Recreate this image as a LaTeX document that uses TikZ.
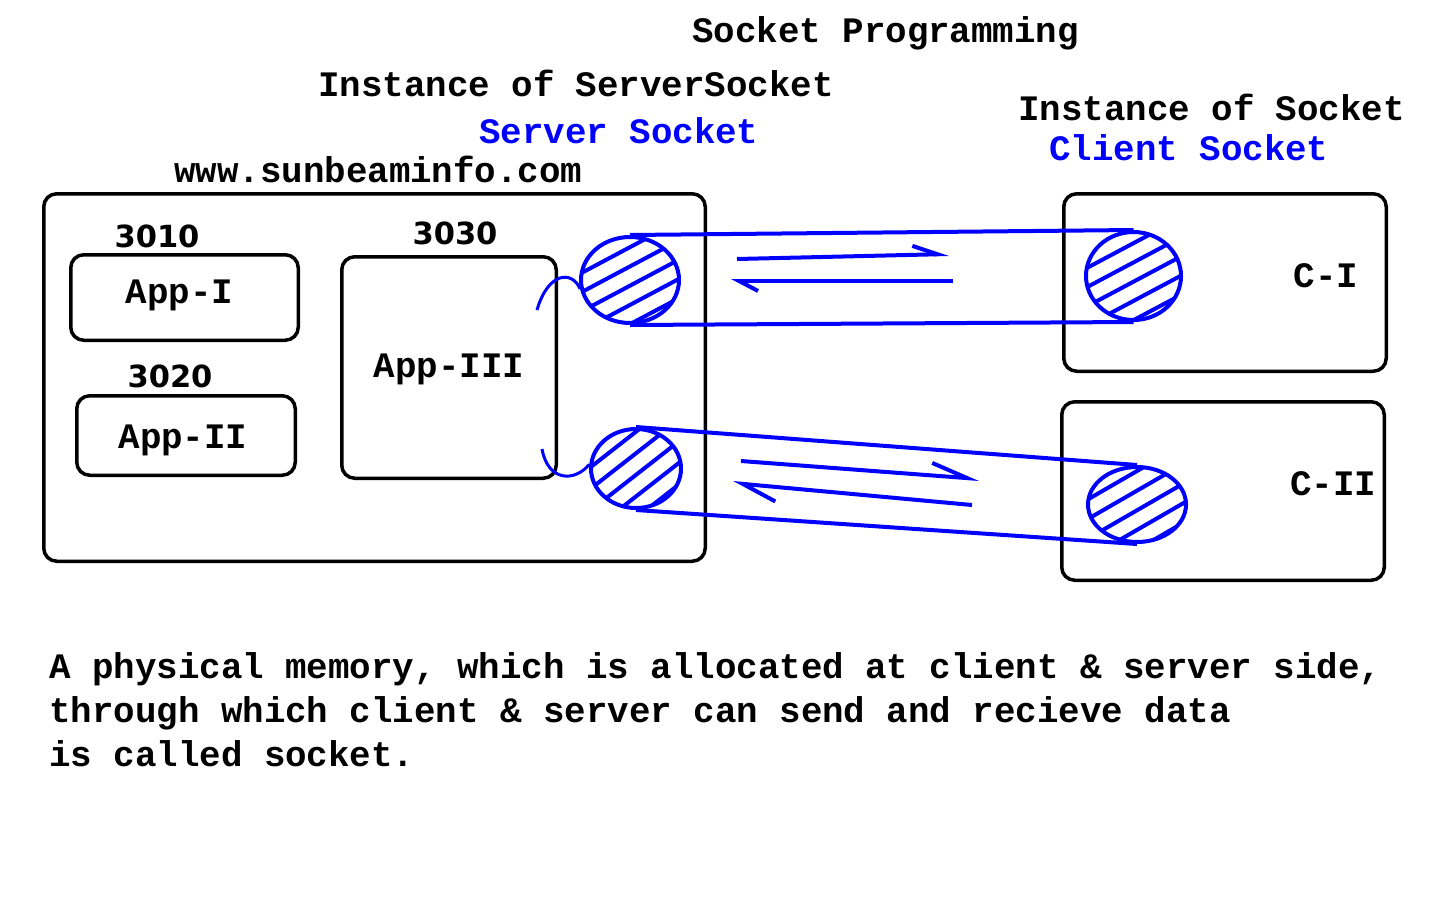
\documentclass[tikz,border=0pt]{standalone}
\usepackage{fontspec}
\setmainfont{Liberation Mono}
\newfontfamily\numfont{DejaVu Sans}
\usetikzlibrary{shapes.geometric,arrows.meta}

\begin{document}
\begin{tikzpicture}[x=1pt,y=-1pt,
    txt/.style={font=\fontsize{35.8}{44}\selectfont\bfseries,inner sep=0pt},
    port/.style={font=\fontsize{30.5}{36}\selectfont\numfont\bfseries,inner sep=0pt,anchor=base},
    box/.style={draw,line width=3.5pt,rounded corners=13pt,inner sep=0pt},
    sock/.style={ellipse,draw=blue,line width=4pt,inner sep=0pt},
    tube/.style={blue,line width=4pt},
    harp/.style 2 args={blue,line width=4pt,-{Straight Barb[left,length=#1,width=#2]}}]
    \useasboundingbox (0,0) rectangle (1440,900);
    % boxes
    \foreach \n/\cx/\cy/\w/\h in {server/374.5/377.5/661.5/367.5,app1/184.5/297.5/227.5/85.5,
      app2/186/435.5/218.5/79.5,app3/449/367.5/214.5/221.5,
      c1/1225/282.5/322.5/177.5,c2/1223/491/322.5/178.5}{
      \node[box,minimum width=\w pt,minimum height=\h pt] (\n) at (\cx,\cy) {};
    }
    \foreach \n/\t/\x/\y in {l1/App-I/179.5/303,l2/App-II/183/448,l3/App-III/449/377,
      l4/C-I/1326/287,l5/C-II/1333/495}{
      \node[txt,anchor=base] (\n) at (\x,\y) {\t};
    }
    \foreach \p/\x/\y in {3010/157/247,3020/170/387,3030/455/244}{
      \node[port] (p\p) at (\x,\y) {\p};
    }
    % texts
    \node[txt,anchor=base west] (title) at (692,42) {Socket Programming};
    \node[txt,anchor=base west] (srvinst) at (318,96) {Instance of ServerSocket};
    \node[txt,anchor=base west,blue] (srvsock) at (479,143) {Server Socket};
    \node[txt,anchor=base west] (site) at (174,182) {www.sunbeaminfo.com};
    \node[txt,anchor=base west] (cliinst) at (1018,120) {Instance of Socket};
    \node[txt,anchor=base west,blue] (clisock) at (1049,160) {Client Socket};
    \node[txt,anchor=base west,align=left] (note) at (49,766)
      {A physical memory, which is allocated at client \& server side,\\
       through which client \& server can send and recieve data\\
       is called socket.};
    % sockets
    \foreach \s/\cx/\cy/\rx/\ry/\a in {ss1/630/280/49/43/28,cs1/1133.5/276/47.5/44/28,
      ss2/636/468.5/45/39.5/38,cs2/1137/504.5/49/37.5/30}{
      \begin{scope}
        \clip (\cx,\cy) ellipse [x radius=\rx,y radius=\ry];
        \foreach \k in {-4,...,4}
          \draw[tube,shift={(\cx,\cy)},rotate=\a] (-90,\k*17+5) -- (90,\k*17+5);
      \end{scope}
      \node[sock,minimum width=2*\rx pt,minimum height=2*\ry pt] (\s) at (\cx,\cy) {};
    }
    \draw[tube] (ss1.north) -- (cs1.north) (ss1.south) -- (cs1.south);
    \draw[tube] (ss2.north) -- (cs2.north) (ss2.south) -- (cs2.south);
    \draw[tube,line width=3pt] (537,310) .. controls (548,272) and (572,270) .. (ss1.190);
    \draw[tube,line width=3pt] (542,449) .. controls (548,482) and (575,482) .. (ss2.175);
    % data flow
    \coordinate (a1) at (737,259); \coordinate (b1) at (949,254);
    \coordinate (a2) at (953,281); \coordinate (b2) at (731,281);
    \coordinate (a3) at (741,461); \coordinate (b3) at (979,479);
    \coordinate (a4) at (972,505); \coordinate (b4) at (733,483);
    \draw[harp={25pt}{18pt}] (a1) -- (b1);
    \draw[harp={19pt}{20pt}] (a2) -- (b2);
    \draw[harp={36pt}{25pt}] (a3) -- (b3);
    \draw[harp={34pt}{29pt}] (a4) -- (b4);
\end{tikzpicture}
\end{document}
